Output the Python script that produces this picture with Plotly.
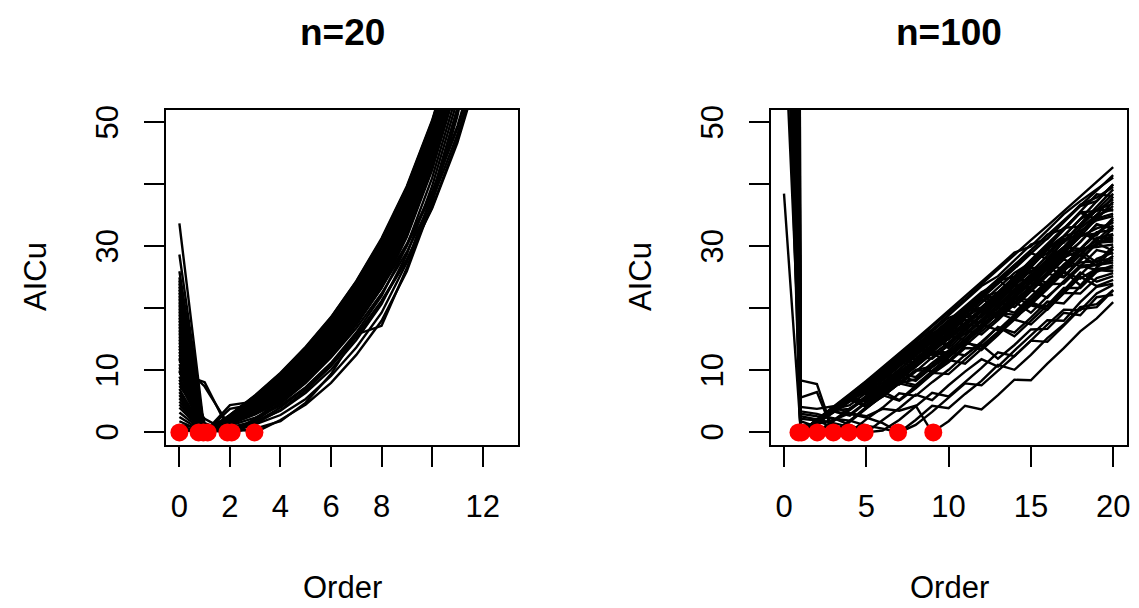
import plotly.graph_objects as go

# ---------------- data: n = 20 ----------------
order_n20 = [0, 1, 2, 3, 4, 5, 6, 7, 8, 9, 10, 11, 12]
aicu_n20 = [
    [22.0, 0, 2.8, 6.0, 9.6, 13.8, 18.6, 24.4, 31.3, 39.7, 50.3, 63.9, 82.0],
    [14.0, 0, 2.7, 5.9, 9.4, 13.6, 18.3, 24.1, 31.0, 39.4, 50.0, 63.6, 81.7],
    [25.0, 0, 2.7, 5.7, 9.2, 13.3, 18.1, 23.8, 30.6, 39.0, 49.6, 63.3, 81.4],
    [9.0, 0, 2.6, 5.6, 9.0, 13.1, 17.8, 23.5, 30.3, 38.7, 49.3, 62.9, 81.1],
    [18.0, 0, 2.6, 5.5, 8.8, 12.9, 17.5, 23.2, 30.0, 38.3, 49.0, 62.6, 80.8],
    [33.7, 0, 2.5, 5.4, 8.7, 12.6, 17.3, 22.9, 29.6, 38.0, 48.6, 62.3, 80.5],
    [5.0, 0, 2.4, 5.2, 8.5, 12.4, 17.0, 22.6, 29.3, 37.6, 48.3, 62.0, 80.2],
    [20.0, 0, 2.4, 5.1, 8.3, 12.2, 16.7, 22.3, 29.0, 37.3, 48.0, 61.6, 79.9],
    [12.0, 0, 2.3, 5.0, 8.1, 11.9, 16.5, 22.0, 28.6, 37.0, 47.6, 61.3, 79.6],
    [28.7, 0, 2.2, 4.8, 7.9, 11.7, 16.2, 21.7, 28.3, 36.6, 47.3, 61.0, 79.3],
    [7.0, 0, 2.2, 4.7, 7.7, 11.5, 16.0, 21.4, 28.0, 36.3, 47.0, 60.7, 79.0],
    [16.0, 0, 2.1, 4.6, 7.5, 11.2, 15.7, 21.1, 27.6, 35.9, 46.6, 60.3, 78.7],
    [3.2, 0, 2.1, 4.4, 7.3, 11.0, 15.4, 20.8, 27.3, 35.6, 46.3, 60.0, 78.4],
    [23.0, 0, 2.0, 4.3, 7.1, 10.8, 15.2, 20.5, 27.0, 35.3, 46.0, 59.7, 78.1],
    [11.0, 0, 1.9, 4.2, 6.9, 10.5, 14.9, 20.2, 26.6, 34.9, 45.6, 59.4, 77.8],
    [19.0, 0, 1.9, 4.1, 6.8, 10.3, 14.6, 19.9, 26.3, 34.6, 45.3, 59.1, 77.5],
    [0.0, 0.7, 2.5, 4.6, 7.3, 10.8, 15.1, 20.3, 26.7, 34.9, 45.7, 59.4, 77.9],
    [15.0, 0, 1.7, 3.8, 6.4, 9.9, 14.1, 19.3, 25.7, 33.9, 44.7, 58.4, 76.9],
    [6.0, 0, 1.7, 3.7, 6.2, 9.6, 13.8, 19.0, 25.3, 33.5, 44.3, 58.1, 76.6],
    [24.0, 0, 1.6, 3.5, 6.0, 9.4, 13.6, 18.7, 25.0, 33.2, 44.0, 57.8, 76.3],
    [10.0, 0, 1.6, 3.4, 5.8, 9.2, 13.3, 18.5, 24.7, 32.9, 43.7, 57.5, 76.0],
    [2.5, 0, 1.5, 3.3, 5.6, 8.9, 13.0, 18.2, 24.3, 32.5, 43.3, 57.1, 75.7],
    [17.0, 0, 1.4, 3.1, 5.4, 8.7, 12.8, 17.9, 24.0, 32.2, 43.0, 56.8, 75.4],
    [8.0, 0, 1.4, 3.0, 5.2, 8.5, 12.5, 17.6, 23.7, 31.8, 42.7, 56.5, 75.1],
    [21.0, 0, 1.3, 2.9, 5.0, 8.2, 12.2, 17.3, 23.3, 31.5, 42.3, 56.2, 74.8],
    [4.0, 0, 1.1, 2.4, 4.3, 7.3, 11.2, 16.1, 22.0, 30.1, 41.0, 54.9, 73.6],
    [13.0, 0, 0.8, 1.8, 3.5, 6.4, 10.1, 14.9, 20.7, 28.7, 39.7, 53.6, 72.4],
    [9.5, 8.1, 0, 1.3, 2.8, 5.4, 9.1, 13.7, 19.3, 27.4, 38.3, 52.3, 71.2],
    [11.5, 7.4, 0.9, 0, 2.0, 4.5, 8.0, 12.5, 18.0, 26.0, 37.0, 51.0, 70.0],
    [1.2, 0.6, 0, 0.6, 1.8, 4.8, 9.4, 15.8, 17.2, 26.5, 38.0, 52.0, 71.0],
    [1.0, 0, 4.4, 5.0, 7.0, 10.0, 14.0, 19.0, 25.0, 33.0, 43.8, 57.6, 76.1],
    [0.5, 0, 3.8, 4.6, 6.2, 9.0, 12.9, 17.8, 24.0, 32.0, 42.8, 56.5, 75.0],
    [24.5, 0, 2.8, 5.9, 9.5, 13.7, 18.5, 24.3, 31.1, 39.5, 50.1, 63.7, 81.9],
    [22.5, 0, 2.5, 5.3, 8.6, 12.5, 17.1, 22.7, 29.5, 37.8, 48.5, 62.1, 80.4],
    [20.5, 0, 2.3, 4.9, 8.0, 11.8, 16.3, 21.8, 28.4, 36.8, 47.4, 61.1, 79.4],
    [18.5, 0, 2.0, 4.5, 7.4, 11.1, 15.5, 20.9, 27.4, 35.7, 46.4, 60.1, 78.5],
    [16.5, 0, 1.8, 4.0, 6.7, 10.2, 14.5, 19.7, 26.1, 34.3, 45.1, 58.8, 77.3],
    [14.5, 0, 1.6, 3.6, 6.1, 9.5, 13.7, 18.8, 25.1, 33.3, 44.1, 57.9, 76.4],
    [12.5, 0, 1.5, 3.2, 5.5, 8.8, 12.9, 18.0, 24.1, 32.3, 43.1, 56.9, 75.5],
    [10.5, 0, 2.6, 5.6, 8.9, 13.0, 17.7, 23.4, 30.1, 38.5, 49.1, 62.8, 81.0],
    [8.5, 0, 2.4, 5.1, 8.4, 12.3, 16.9, 22.4, 29.1, 37.5, 48.1, 61.8, 80.0],
    [6.5, 0, 2.1, 4.5, 7.4, 11.1, 15.6, 21.0, 27.5, 35.8, 46.5, 60.2, 78.6],
    [4.5, 0, 1.9, 4.0, 6.6, 10.2, 14.4, 19.6, 26.0, 34.2, 45.0, 58.7, 77.2],
    [21.5, 0, 2.3, 5.0, 8.2, 12.0, 16.6, 22.1, 28.8, 37.1, 47.8, 61.5, 79.8],
    [17.5, 0, 2.0, 4.4, 7.2, 10.9, 15.3, 20.6, 27.2, 35.4, 46.2, 59.9, 78.3],
    [13.5, 0, 1.8, 3.9, 6.5, 10.0, 14.3, 19.5, 25.9, 34.0, 44.8, 58.6, 77.1],
    [9.8, 0, 2.7, 5.8, 9.3, 13.4, 18.2, 24.0, 30.8, 39.2, 49.8, 63.5, 81.6],
    [5.5, 0, 2.2, 4.8, 7.8, 11.6, 16.1, 21.5, 28.1, 36.4, 47.1, 60.8, 79.1],
    [26.0, 0, 2.5, 5.4, 8.8, 12.8, 17.4, 23.0, 29.8, 38.2, 48.8, 62.4, 80.6],
    [1.8, 0, 1.6, 3.5, 5.9, 9.3, 13.5, 18.6, 24.8, 33.0, 43.8, 57.6, 76.1],
    [23.5, 0.4, 0, 2.2, 5.2, 8.9, 13.2, 18.0, 23.6, 30.4, 38.8, 49.4, 63.0],
    [19.5, 0.8, 0, 1.9, 4.6, 8.0, 12.1, 16.8, 22.4, 29.1, 37.4, 48.0, 61.6],
    [15.5, 1.5, 0, 1.6, 4.0, 7.2, 11.1, 15.7, 21.2, 27.9, 36.1, 46.7, 60.3],
    [11.8, 1.1, 0, 2.0, 4.8, 8.3, 12.6, 17.6, 23.3, 30.1, 38.4, 49.0, 62.6],
    [7.5, 2.2, 0, 1.4, 3.6, 6.8, 10.7, 15.4, 21.0, 27.8, 36.3, 47.2, 61.0],
]
# selected orders (as drawn, slightly jittered) and their value (always 0)
sel_order_n20 = [0.0, 0.76, 0.95, 1.12, 1.9, 2.07, 2.97]
sel_aicu_n20 = [0, 0, 0, 0, 0, 0, 0]

# ---------------- data: n = 100 ----------------
order_n100 = [0, 1, 2, 3, 4, 5, 6, 7, 8, 9, 10, 11, 12, 13, 14, 15, 16, 17, 18, 19, 20]
aicu_n100 = [
    [820, 0, 2.0, 4.0, 6.1, 8.2, 10.2, 12.5, 14.7, 17.1, 19.3, 21.5, 23.9, 26.3, 28.6, 31.0, 33.3, 35.7, 38.1, 40.5, 42.8],
    [260, 0, 2.1, 4.1, 6.2, 8.3, 10.5, 12.8, 15.0, 17.3, 19.6, 21.9, 24.3, 26.6, 29.0, 30.0, 32.6, 35.2, 37.3, 39.2, 41.1],
    [540, 0, 1.9, 4.0, 5.7, 7.7, 9.9, 11.5, 13.5, 15.8, 17.7, 20.0, 19.5, 22.0, 24.3, 26.7, 29.5, 31.6, 34.4, 37.3, 40.0],
    [130, 0, 1.7, 3.6, 5.7, 6.8, 8.9, 11.0, 12.8, 15.2, 17.3, 19.7, 21.6, 24.0, 26.6, 28.9, 28.0, 30.8, 33.5, 36.3, 39.2],
    [950, 0, 2.0, 3.6, 5.5, 7.6, 9.4, 11.7, 11.2, 13.4, 15.7, 17.5, 19.7, 22.3, 24.5, 27.0, 29.7, 31.7, 34.4, 35.9, 38.5],
    [390, 0, 1.8, 3.8, 5.2, 7.4, 9.3, 11.4, 13.6, 15.2, 17.6, 19.7, 22.0, 20.5, 23.1, 25.3, 27.9, 30.8, 32.2, 35.1, 38.0],
    [170, 0, 1.6, 3.7, 5.7, 7.6, 7.3, 9.6, 11.7, 13.7, 16.0, 18.5, 20.2, 22.5, 25.1, 27.6, 29.9, 32.7, 35.4, 34.4, 37.2],
    [680, 0, 1.9, 3.7, 5.8, 7.8, 9.4, 11.6, 13.5, 15.9, 15.0, 17.3, 19.7, 21.8, 24.5, 24.6, 27.1, 29.8, 32.1, 34.7, 36.5],
    [300, 0, 1.5, 3.4, 5.4, 7.6, 9.5, 11.0, 13.2, 15.4, 17.4, 19.9, 22.2, 24.7, 22.4, 24.8, 27.5, 29.9, 32.9, 35.1, 36.0],
    [1400, 0, 2.0, 4.0, 5.1, 7.1, 9.2, 11.2, 13.5, 15.4, 17.7, 17.4, 19.5, 21.9, 24.5, 26.6, 29.4, 28.9, 31.6, 34.5, 35.3],
    [90, 0, 1.8, 3.5, 5.5, 7.7, 9.2, 11.3, 10.7, 13.0, 15.1, 17.1, 19.6, 21.4, 23.9, 26.5, 26.6, 29.1, 31.9, 31.8, 34.6],
    [460, 0, 1.7, 3.8, 5.4, 7.5, 9.5, 11.4, 13.6, 15.3, 16.7, 18.9, 16.9, 19.4, 21.7, 24.2, 26.2, 29.0, 29.5, 32.0, 34.0],
    [210, 0, 1.9, 3.4, 5.3, 5.1, 7.3, 9.3, 11.1, 13.4, 15.6, 14.9, 17.3, 19.5, 22.2, 24.2, 26.8, 29.4, 32.3, 31.0, 33.4],
    [740, 0, 2.0, 3.9, 5.7, 7.8, 9.2, 11.4, 13.7, 12.5, 14.5, 16.8, 18.8, 21.3, 23.7, 23.4, 25.8, 28.5, 30.7, 33.6, 32.8],
    [360, 0, 1.6, 3.6, 5.7, 7.4, 9.4, 9.0, 11.2, 13.3, 15.7, 17.6, 19.9, 18.7, 21.3, 23.6, 26.4, 28.8, 28.5, 31.3, 32.0],
    [580, 0, 1.8, 3.9, 5.2, 7.3, 9.2, 11.5, 13.4, 15.6, 13.6, 16.0, 18.0, 20.6, 23.1, 25.5, 23.2, 26.0, 28.6, 31.4, 31.4],
    [110, 0, 1.9, 3.7, 5.6, 7.8, 6.9, 8.8, 11.0, 13.4, 15.1, 17.4, 17.1, 19.4, 22.0, 24.2, 26.8, 25.1, 28.0, 30.6, 30.8],
    [500, 1.3, 0, 1.9, 3.9, 5.4, 7.6, 9.6, 8.9, 11.2, 13.2, 15.5, 18.0, 20.1, 19.3, 21.9, 24.4, 27.1, 29.3, 27.4, 30.0],
    [240, 0, 1.7, 3.7, 5.8, 7.6, 9.6, 11.1, 13.4, 13.2, 15.3, 17.7, 19.7, 18.3, 20.8, 23.4, 25.6, 25.0, 27.7, 30.5, 29.3],
    [1050, 0, 2.0, 3.6, 5.5, 4.4, 6.5, 8.8, 10.8, 13.0, 12.9, 15.0, 17.4, 19.3, 18.2, 20.9, 23.4, 26.1, 23.7, 26.6, 28.5],
    [330, 0, 1.8, 3.8, 5.5, 7.7, 9.3, 7.7, 9.8, 12.1, 14.0, 16.5, 15.8, 18.1, 20.7, 23.0, 21.7, 24.4, 26.9, 27.1, 27.8],
    [150, 2.2, 1.9, 0.8, 0, 2.1, 4.0, 6.3, 5.9, 8.1, 10.1, 12.5, 14.4, 17.0, 15.5, 18.0, 20.5, 23.3, 23.3, 25.9, 27.0],
    [620, 0, 1.9, 4.0, 5.3, 7.3, 6.6, 8.8, 10.6, 12.7, 11.5, 14.0, 16.3, 18.5, 21.1, 19.3, 21.9, 24.2, 26.9, 26.2, 26.0],
    [420, 3.0, 2.6, 2.3, 1.2, 0, 2.0, 3.9, 6.1, 5.2, 7.6, 9.8, 11.8, 10.6, 13.2, 15.7, 18.1, 18.0, 21.0, 23.5, 24.0],
    [870, 4.1, 3.8, 4.2, 3.0, 2.4, 1.5, 0, 2.0, 4.3, 3.9, 6.2, 8.3, 10.9, 10.1, 12.5, 15.2, 17.4, 20.2, 20.7, 23.0],
    [280, 0, 1.5, 3.4, 2.7, 4.8, 6.6, 5.2, 7.5, 9.6, 9.4, 11.7, 14.1, 11.9, 14.1, 16.6, 16.7, 19.3, 18.9, 21.8, 22.2],
    [38.5, 1.0, 1.4, 2.0, 3.1, 2.6, 3.8, 3.5, 4.3, 0, 1.8, 4.3, 3.7, 6.0, 8.5, 8.4, 11.1, 13.6, 16.3, 18.4, 21.0],
    [190, 0, 1.8, 3.6, 5.6, 5.0, 7.2, 9.1, 8.3, 10.5, 12.4, 14.8, 13.3, 15.7, 18.4, 20.7, 20.3, 22.9, 25.8, 24.3, 25.2],
    [68, 8.4, 7.8, 0, 1.9, 4.1, 5.8, 8.0, 10.0, 9.9, 12.1, 14.6, 16.7, 19.2, 19.0, 21.4, 24.2, 26.6, 29.4, 30.3, 33.0],
    [1200, 5.6, 6.5, 0, 1.7, 3.8, 6.0, 5.1, 7.1, 9.4, 11.3, 13.6, 13.5, 16.1, 18.5, 20.5, 19.8, 22.6, 25.4, 28.0, 29.0],
    [700, 0, 1.9, 3.9, 6.0, 8.0, 10.0, 12.2, 14.3, 15.4, 17.7, 20.0, 22.3, 24.7, 27.0, 29.4, 31.8, 34.2, 36.5, 39.0, 41.5],
    [310, 0, 2.0, 3.8, 5.9, 8.0, 10.1, 12.3, 14.5, 16.6, 18.9, 21.2, 23.6, 25.2, 27.8, 30.3, 31.2, 33.9, 36.7, 37.9, 39.6],
    [160, 0, 1.8, 3.9, 6.0, 7.9, 9.7, 11.8, 14.0, 16.2, 18.5, 19.4, 21.8, 24.3, 26.9, 29.3, 31.9, 32.8, 35.6, 38.4, 38.1],
    [1100, 0, 1.9, 3.7, 5.6, 7.5, 9.6, 10.9, 13.1, 15.3, 17.4, 19.8, 22.1, 24.5, 25.1, 27.6, 30.2, 32.9, 35.5, 35.7, 37.6],
    [230, 0, 1.6, 3.5, 5.5, 7.4, 9.5, 11.6, 13.7, 14.3, 16.6, 18.9, 21.3, 22.2, 24.8, 27.3, 29.9, 30.6, 33.4, 35.9, 36.9],
    [640, 0, 2.0, 4.0, 5.9, 6.2, 8.4, 10.6, 12.8, 15.1, 17.3, 19.6, 20.1, 22.6, 25.1, 27.8, 30.4, 33.0, 33.2, 35.9, 35.8],
    [100, 0, 1.7, 3.6, 5.5, 7.6, 9.6, 11.8, 13.9, 16.1, 16.2, 18.5, 20.9, 23.3, 25.7, 27.4, 28.9, 31.6, 32.5, 34.2, 34.9],
    [480, 0, 1.8, 3.7, 4.4, 6.4, 8.5, 10.7, 12.7, 14.9, 17.1, 19.5, 21.8, 22.6, 25.0, 25.8, 28.5, 31.2, 31.7, 32.1, 34.3],
    [350, 0, 1.5, 3.3, 5.2, 7.2, 9.3, 11.4, 11.9, 14.2, 16.4, 18.8, 18.6, 21.0, 23.6, 26.1, 26.3, 28.9, 31.6, 32.9, 33.8],
    [900, 0, 1.9, 3.8, 5.8, 7.9, 7.9, 10.1, 12.3, 14.6, 15.3, 17.6, 20.0, 22.4, 22.7, 25.2, 27.8, 28.0, 30.8, 33.5, 33.1],
    [200, 0, 2.0, 3.9, 5.4, 7.4, 9.4, 11.6, 12.4, 14.7, 16.9, 19.2, 21.5, 20.3, 22.8, 25.4, 27.9, 29.9, 29.6, 32.3, 32.6],
    [560, 0, 1.7, 3.7, 5.7, 7.8, 8.6, 10.7, 12.9, 15.0, 14.2, 16.6, 19.0, 21.5, 23.9, 22.9, 25.5, 28.2, 29.4, 30.2, 31.9],
    [140, 0.6, 0, 1.8, 3.6, 5.6, 7.7, 9.8, 11.7, 13.9, 16.1, 15.8, 18.2, 20.6, 21.9, 24.4, 26.9, 26.4, 29.2, 30.9, 31.1],
    [760, 0, 1.6, 3.5, 5.4, 5.0, 7.1, 9.3, 11.4, 13.7, 15.9, 18.2, 17.7, 20.0, 22.6, 25.0, 24.1, 26.8, 29.6, 29.9, 30.3],
    [270, 0, 1.9, 3.8, 5.7, 7.6, 9.5, 8.7, 10.8, 13.0, 15.2, 17.5, 19.8, 19.1, 21.7, 24.1, 23.5, 26.1, 28.7, 26.9, 29.6],
    [430, 0, 1.8, 3.6, 3.8, 5.9, 8.0, 10.2, 12.3, 11.9, 14.1, 16.4, 18.7, 21.0, 20.2, 22.7, 25.3, 27.9, 26.8, 29.4, 28.8],
    [1300, 0, 1.4, 3.2, 5.1, 7.1, 6.2, 8.4, 10.6, 12.8, 12.5, 14.7, 17.1, 19.5, 21.9, 21.2, 23.7, 26.4, 27.4, 27.6, 28.1],
    [120, 0, 1.9, 3.5, 5.4, 7.3, 9.2, 7.9, 10.1, 10.6, 12.7, 15.0, 17.4, 16.5, 18.9, 21.4, 23.9, 24.0, 26.6, 27.0, 27.4],
    [600, 0, 1.7, 3.4, 2.9, 4.9, 6.9, 9.0, 10.9, 13.2, 12.1, 14.4, 16.8, 19.2, 21.7, 20.6, 23.1, 25.8, 24.8, 26.4, 26.6],
    [250, 1.8, 0.9, 0, 1.9, 3.9, 5.8, 7.9, 7.3, 9.5, 11.7, 11.1, 13.4, 15.8, 18.2, 17.4, 19.9, 22.5, 22.4, 24.9, 25.7],
    [980, 0, 1.6, 3.5, 5.3, 4.1, 6.2, 8.3, 7.6, 9.9, 12.1, 14.4, 13.9, 16.2, 18.7, 21.1, 19.8, 22.4, 25.1, 23.6, 24.6],
    [180, 2.6, 2.1, 1.5, 0.9, 0, 0.3, 2.0, 4.2, 6.4, 5.8, 8.1, 10.4, 12.9, 12.3, 14.8, 17.4, 19.8, 19.7, 22.4, 23.8],
    [720, 3.4, 3.0, 2.2, 1.9, 1.1, 0.6, 0, 1.2, 3.3, 5.6, 7.9, 7.6, 9.9, 12.3, 14.8, 14.6, 17.2, 19.9, 20.2, 22.9],
    [400, 0, 1.5, 3.2, 4.9, 6.7, 5.8, 7.9, 8.6, 10.8, 13.0, 12.4, 14.6, 17.0, 16.1, 18.5, 21.1, 20.8, 23.5, 26.3, 26.1],
    [85, 0, 1.8, 3.7, 5.6, 7.6, 9.6, 11.6, 13.7, 15.8, 18.0, 20.3, 22.6, 24.0, 26.4, 28.8, 31.3, 33.9, 36.5, 37.3, 40.0],
]
sel_order_n100 = [0.88, 1.06, 2.02, 3.0, 3.93, 4.9, 6.93, 9.07]
sel_aicu_n100 = [0, 0, 0, 0, 0, 0, 0, 0]

y_ticks = [0, 10, 20, 30, 40, 50]
y_ticktext = ["0", "10", "", "30", "", "50"]
x_ticks_n20 = [0, 2, 4, 6, 8, 10, 12]
x_ticktext_n20 = ["0", "2", "4", "6", "8", "", "12"]
x_ticks_n100 = [0, 5, 10, 15, 20]

for r in aicu_n20:
    assert len(r) == len(order_n20), r
for r in aicu_n100:
    assert len(r) == len(order_n100), r

# ---------------- figure ----------------
W, H = 1139, 608
FONT = "Liberation Sans"


def joined(xs, rows):
    X, Y = [], []
    for r in rows:
        X += list(xs) + [None]
        Y += list(r) + [None]
    return X, Y


fig = go.Figure()
for xs, rows, sx, sy, ax in [
    (order_n20, aicu_n20, sel_order_n20, sel_aicu_n20, ("x", "y")),
    (order_n100, aicu_n100, sel_order_n100, sel_aicu_n100, ("x2", "y2")),
]:
    X, Y = joined(xs, rows)
    fig.add_trace(go.Scatter(x=X, y=Y, mode="lines", xaxis=ax[0], yaxis=ax[1],
                             line=dict(color="black", width=2.4), connectgaps=False,
                             hoverinfo="skip", showlegend=False))
    fig.add_trace(go.Scatter(x=sx, y=sy, mode="markers", xaxis=ax[0], yaxis=ax[1],
                             marker=dict(color="#FF0000", size=18, line=dict(width=0)),
                             hoverinfo="skip", showlegend=False))

ydom = [(H - 444.8) / H, (H - 110) / H]
common_axis = dict(showline=True, linecolor="black", linewidth=1.5, mirror=True,
                   ticks="outside", ticklen=20, tickwidth=1.7, tickcolor="black",
                   showgrid=False, zeroline=False, automargin=False,
                   tickfont=dict(family=FONT, size=31, color="black"))

fig.update_layout(
    width=W, height=H, autosize=False,
    margin=dict(l=0, r=0, t=0, b=0, pad=0, autoexpand=False),
    paper_bgcolor="white", plot_bgcolor="white",
    xaxis=dict(domain=[166 / W, 518 / W], range=[-0.53, 13.4], anchor="y",
               tickvals=x_ticks_n20, ticktext=x_ticktext_n20, tickangle=0,
               ticklabelstandoff=13, **common_axis),
    yaxis=dict(domain=ydom, range=[-2, 52], anchor="x",
               tickvals=y_ticks, showticklabels=False, **common_axis),
    xaxis2=dict(domain=[771 / W, 1127 / W], range=[-0.79, 20.84], anchor="y2",
                tickvals=x_ticks_n100, tickangle=0,
                ticklabelstandoff=13, **common_axis),
    yaxis2=dict(domain=ydom, range=[-2, 52], anchor="x2",
                tickvals=y_ticks, showticklabels=False, **common_axis),
)


def ann(text, px, py, size, angle=0):
    fig.add_annotation(text=text, x=px / W, y=1 - py / H, xref="paper", yref="paper",
                       showarrow=False, xanchor="center", yanchor="middle",
                       textangle=angle, font=dict(family=FONT, size=size, color="black"))


# y tick labels (rotated, like R's default las=0)
for yref, px in (("y", 107), ("y2", 712)):
    for v, t in zip(y_ticks, y_ticktext):
        if t:
            fig.add_annotation(text=t, x=px / W, y=v, xref="paper", yref=yref,
                               showarrow=False, xanchor="center", yanchor="middle",
                               textangle=-90,
                               font=dict(family=FONT, size=31, color="black"))

ann("<b>n=20</b>", 342, 33, 37)
ann("<b>n=100</b>", 949, 33, 37)
ann("Order", 342, 587, 31)
ann("Order", 949, 587, 31)
ann("AICu", 35, 277, 31, -90)
ann("AICu", 640, 277, 31, -90)

fig.write_html(
    "out.html",
    config={"responsive": False, "displayModeBar": False},
    post_script="document.body.style.margin='0';document.body.style.overflow='hidden';",
)
